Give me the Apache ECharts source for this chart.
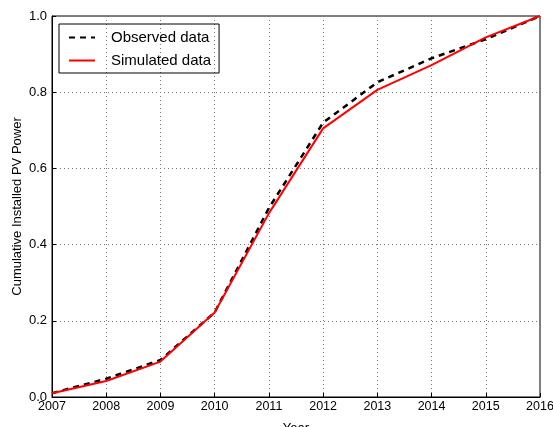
<!DOCTYPE html>
<html>
<head>
<meta charset="utf-8">
<script src="https://cdn.jsdelivr.net/npm/echarts@6/dist/echarts.min.js"></script>
<style>
html,body{margin:0;padding:0;background:#fff;}
#chart{width:553px;height:427px;}
</style>
</head>
<body>
<div id="chart"></div>
<script>
var years = [2007, 2008, 2009, 2010, 2011, 2012, 2013, 2014, 2015, 2016];
var observed = [0.010, 0.048, 0.097, 0.222, 0.496, 0.720, 0.826, 0.889, 0.939, 1.000];
var simulated = [0.010, 0.042, 0.093, 0.222, 0.482, 0.705, 0.806, 0.871, 0.944, 1.000];
var yTicks = [0, 0.2, 0.4, 0.6, 0.8, 1.0];

function pairs(xs, ys) { return xs.map(function (x, i) { return [x, ys[i]]; }); }

var font = 'Liberation Sans, Arial, sans-serif';
var chart = echarts.init(document.getElementById('chart'), null, {renderer: 'canvas'});
chart.setOption({
  animation: false,
  backgroundColor: '#fff',
  textStyle: {fontFamily: font},
  grid: {left: 52, right: 13, top: 16, bottom: 30, outerBoundsMode: 'none', containLabel: false,
         show: true, borderColor: '#000', borderWidth: 1, backgroundColor: 'transparent'},
  legend: {
    left: 59, top: 24, orient: 'vertical',
    itemWidth: 26, itemHeight: 14, itemGap: 8,
    padding: [6, 8, 5, 9],
    borderColor: '#000', borderWidth: 1, borderRadius: 0,
    itemStyle: {opacity: 0},
    textStyle: {fontFamily: font, fontSize: 15, color: '#000', padding: [0, 0, 0, 11]},
    data: ['Observed data', 'Simulated data']
  },
  xAxis: {
    type: 'value', min: years[0], max: years[years.length - 1], interval: 1,
    name: 'Year', nameLocation: 'middle', nameGap: 25, nameMoveOverlap: false,
    nameTextStyle: {fontFamily: font, fontSize: 13, color: '#000'},
    axisLine: {show: true, lineStyle: {color: '#000', width: 1}},
    axisTick: {show: true, inside: true, length: 4, lineStyle: {color: '#000'}},
    axisLabel: {fontFamily: font, fontSize: 12.5, color: '#000', margin: 3, formatter: function (v) { return String(v); }},
    splitLine: {show: true, lineStyle: {color: '#777', type: [1, 3], width: 1}}
  },
  yAxis: {
    type: 'value', min: 0, max: 1, interval: 0.2,
    name: 'Cumulative Installed PV Power', nameLocation: 'middle', nameGap: 28, nameRotate: 90, nameMoveOverlap: false,
    nameTextStyle: {fontFamily: font, fontSize: 13, color: '#000'},
    axisLine: {show: true, lineStyle: {color: '#000', width: 1}},
    axisTick: {show: true, inside: true, length: 4, lineStyle: {color: '#000'}},
    axisLabel: {fontFamily: font, fontSize: 13, color: '#000', margin: 5, formatter: function (v) { return v.toFixed(1); }},
    splitLine: {show: true, lineStyle: {color: '#777', type: [1, 3], width: 1}}
  },
  series: [
    {
      name: 'Observed data', type: 'line', data: pairs(years, observed),
      symbol: 'none', showSymbol: false, z: 2,
      lineStyle: {color: '#000', width: 2.5, type: [6, 5]},
      itemStyle: {color: '#000'}
    },
    {
      name: 'Simulated data', type: 'line', data: pairs(years, simulated),
      symbol: 'none', showSymbol: false, z: 3,
      lineStyle: {color: '#ff0000', width: 2, type: 'solid'},
      itemStyle: {color: '#ff0000'}
    }
  ]
});
</script>
</body>
</html>
